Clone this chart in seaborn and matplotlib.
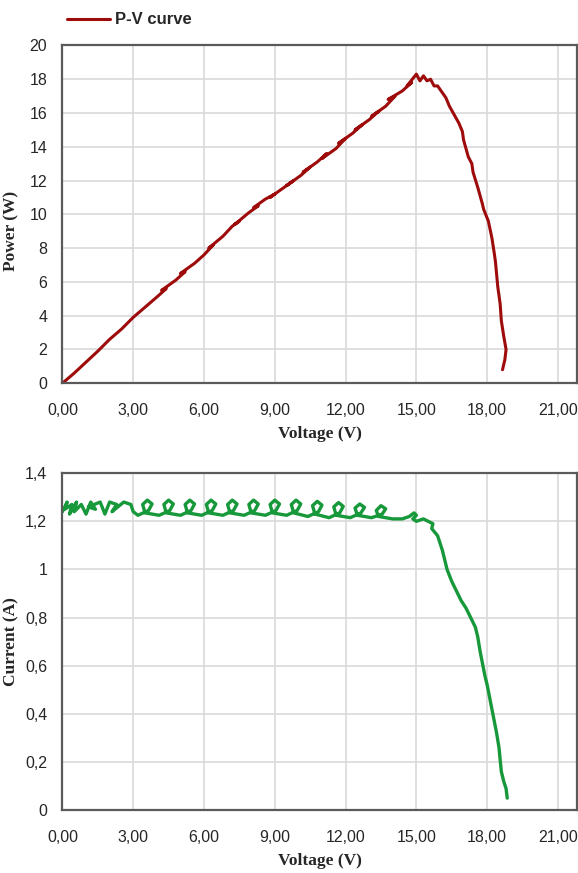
import numpy as np
import pandas as pd
import matplotlib
matplotlib.use("Agg")
import matplotlib.pyplot as plt
from matplotlib.ticker import FuncFormatter
import seaborn as sns

# P-V curve readings (voltage V, power W), wiggles included
pv_v = [0.0, 0.5, 1.0, 1.5, 2.0, 2.5, 3.0, 3.5, 4.0, 4.4, 4.2, 4.8, 5.2, 5.0, 5.6,
        6.0, 6.4, 6.2, 6.8, 7.2, 7.5, 7.3, 7.9, 8.3, 8.1, 8.6, 9.0, 8.8, 9.4, 9.8,
        9.5, 10.1, 10.5, 10.2, 10.8, 11.2, 11.0, 11.6, 12.0, 11.7, 12.3, 12.7, 12.4,
        13.0, 13.4, 13.1, 13.7, 14.1, 13.8, 14.4, 14.8, 14.6, 15.0, 15.15, 15.3, 15.45,
        15.6, 15.75, 15.9, 16.1, 16.25, 16.4, 16.6, 16.8, 16.95, 17.0, 17.2, 17.35,
        17.4, 17.6, 17.8, 17.85, 18.05, 18.2, 18.3, 18.35, 18.45, 18.55, 18.6, 18.7,
        18.8, 18.75, 18.65]
pv_p = [0.0, 0.6, 1.25, 1.9, 2.6, 3.2, 3.9, 4.5, 5.1, 5.6, 5.5, 6.1, 6.6, 6.5, 7.1,
        7.6, 8.2, 8.0, 8.7, 9.3, 9.6, 9.4, 10.1, 10.5, 10.4, 10.9, 11.2, 11.0, 11.6, 12.0,
        11.7, 12.3, 12.8, 12.5, 13.1, 13.6, 13.3, 13.9, 14.5, 14.2, 14.8, 15.3, 15.0,
        15.6, 16.1, 15.8, 16.4, 17.0, 16.8, 17.3, 17.8, 17.6, 18.3, 17.9, 18.2, 17.9,
        18.0, 17.6, 17.6, 17.2, 16.9, 16.4, 15.9, 15.4, 14.9, 14.4, 13.4, 13.0,
        12.5, 11.6, 10.6, 10.3, 9.6, 8.6, 7.7, 7.2, 5.7, 4.7, 3.7, 2.8,
        2.0, 1.4, 0.8]

# I-V curve readings (voltage V, current A)
iv_v = [0.0, 0.2, 0.1, 0.4, 0.3, 0.6, 0.5, 0.8, 1.0, 1.2, 1.4, 1.1, 1.6, 1.8, 2.0,
        2.3, 2.1, 2.6, 2.9, 3.0,
        3.2, 3.65, 3.8, 3.6, 3.4, 3.5,
        4.1, 4.55, 4.7, 4.5, 4.3, 4.4,
        5.0, 5.45, 5.6, 5.4, 5.2, 5.3,
        5.9, 6.35, 6.5, 6.3, 6.1, 6.2,
        6.8, 7.25, 7.4, 7.2, 7.0, 7.1,
        7.7, 8.15, 8.3, 8.1, 7.9, 8.0,
        8.6, 9.05, 9.2, 9.0, 8.8, 8.9,
        9.5, 9.95, 10.1, 9.9, 9.7, 9.8,
        10.4, 10.85, 11.0, 10.8, 10.6, 10.7,
        11.3, 11.75, 11.9, 11.7, 11.5, 11.6,
        12.2, 12.65, 12.8, 12.6, 12.4, 12.5,
        13.1, 13.55, 13.7, 13.5, 13.3, 13.4,
        14.0, 14.4, 14.7, 14.9, 15.0, 14.85, 15.0, 15.3, 15.5, 15.7, 15.65, 15.9,
        16.1, 16.3, 16.5, 16.7, 16.9, 17.1, 17.3, 17.5, 17.6, 17.7, 17.8, 17.9,
        18.0, 18.1, 18.2, 18.3, 18.4, 18.5, 18.55, 18.6, 18.7, 18.8, 18.85]
iv_i = [1.24, 1.28, 1.25, 1.27, 1.23, 1.28, 1.24, 1.27, 1.23, 1.28, 1.25, 1.26, 1.28,
        1.23, 1.28, 1.27, 1.24, 1.28, 1.27, 1.24,
        1.225, 1.245, 1.272, 1.288, 1.27, 1.235,
        1.225, 1.245, 1.272, 1.288, 1.27, 1.235,
        1.225, 1.245, 1.272, 1.288, 1.27, 1.235,
        1.225, 1.245, 1.272, 1.288, 1.27, 1.235,
        1.225, 1.245, 1.272, 1.288, 1.27, 1.235,
        1.225, 1.245, 1.272, 1.288, 1.27, 1.235,
        1.225, 1.245, 1.272, 1.288, 1.27, 1.235,
        1.225, 1.245, 1.272, 1.288, 1.27, 1.235,
        1.22, 1.24, 1.267, 1.283, 1.265, 1.23,
        1.215, 1.235, 1.262, 1.278, 1.26, 1.225,
        1.215, 1.235, 1.258, 1.272, 1.255, 1.225,
        1.215, 1.23, 1.252, 1.265, 1.245, 1.22,
        1.21, 1.21, 1.22, 1.235, 1.225, 1.21, 1.20, 1.21, 1.20, 1.19, 1.17, 1.14,
        1.08, 1.00, 0.95, 0.91, 0.87, 0.84, 0.80, 0.76, 0.72, 0.66, 0.61, 0.56,
        0.52, 0.47, 0.42, 0.37, 0.32, 0.26, 0.21, 0.16, 0.12, 0.09, 0.05]

v_ticks = [0, 3, 6, 9, 12, 15, 18, 21]
p_ticks = [0, 2, 4, 6, 8, 10, 12, 14, 16, 18, 20]
i_ticks = [0, 0.2, 0.4, 0.6, 0.8, 1.0, 1.2, 1.4]

pv = pd.DataFrame({"v": pv_v, "p": pv_p})
iv = pd.DataFrame({"v": iv_v, "i": iv_i})

sns.set_style("white")
plt.rcParams["font.family"] = ["Liberation Sans", "DejaVu Sans"]

fig = plt.figure(figsize=(5.78, 8.73), dpi=100)
ax1 = fig.add_axes([0.108, 0.561, 0.89, 0.387])
ax2 = fig.add_axes([0.108, 0.072, 0.89, 0.386])

red = "#9e0b0b"
green = "#17983a"

sns.lineplot(data=pv, x="v", y="p", sort=False, estimator=None, color=red,
             lw=2.2, ax=ax1, label="P-V curve", legend=False)
sns.lineplot(data=iv, x="v", y="i", sort=False, estimator=None, color=green,
             lw=2.4, ax=ax2, legend=False)


def two_dec(x, pos):
    return f"{x:.2f}".replace(".", ",")


def trim(x, pos):
    s = f"{x:.1f}".replace(".", ",")
    return s[:-2] if s.endswith(",0") else s


for ax, yt in [(ax1, p_ticks), (ax2, i_ticks)]:
    ax.set_xlim(0, 21.8)
    ax.set_xticks(v_ticks)
    ax.xaxis.set_major_formatter(FuncFormatter(two_dec))
    ax.set_yticks(yt)
    ax.set_ylim(yt[0], yt[-1])
    ax.grid(True, color="#d9d9d9", lw=1.2)
    ax.tick_params(length=0, labelsize=11.5, colors="#262626")
    ax.tick_params(axis="x", pad=14)
    ax.tick_params(axis="y", pad=11)
    for s in ax.spines.values():
        s.set_color("#5a5a5a")
        s.set_linewidth(1.6)
    ax.set_xlabel("Voltage (V)", family="Liberation Serif", weight="bold",
                  size=12.5, labelpad=6)

ax2.yaxis.set_major_formatter(FuncFormatter(trim))

ax1.set_ylabel("Power (W)", family="Liberation Serif", weight="bold", size=12.5)
ax1.yaxis.set_label_coords(-0.083, 0.45)
ax2.set_ylabel("Current (A)", family="Liberation Serif", weight="bold", size=12.5)
ax2.yaxis.set_label_coords(-0.083, 0.5)

fig.legend(handles=ax1.get_lines()[:1], labels=["P-V curve"], loc="upper left",
           bbox_to_anchor=(0.09, 1.003), frameon=False, handlelength=2.6,
           handletextpad=0.3, prop={"weight": "bold", "size": 12})

fig.savefig("out.png", dpi=100)
